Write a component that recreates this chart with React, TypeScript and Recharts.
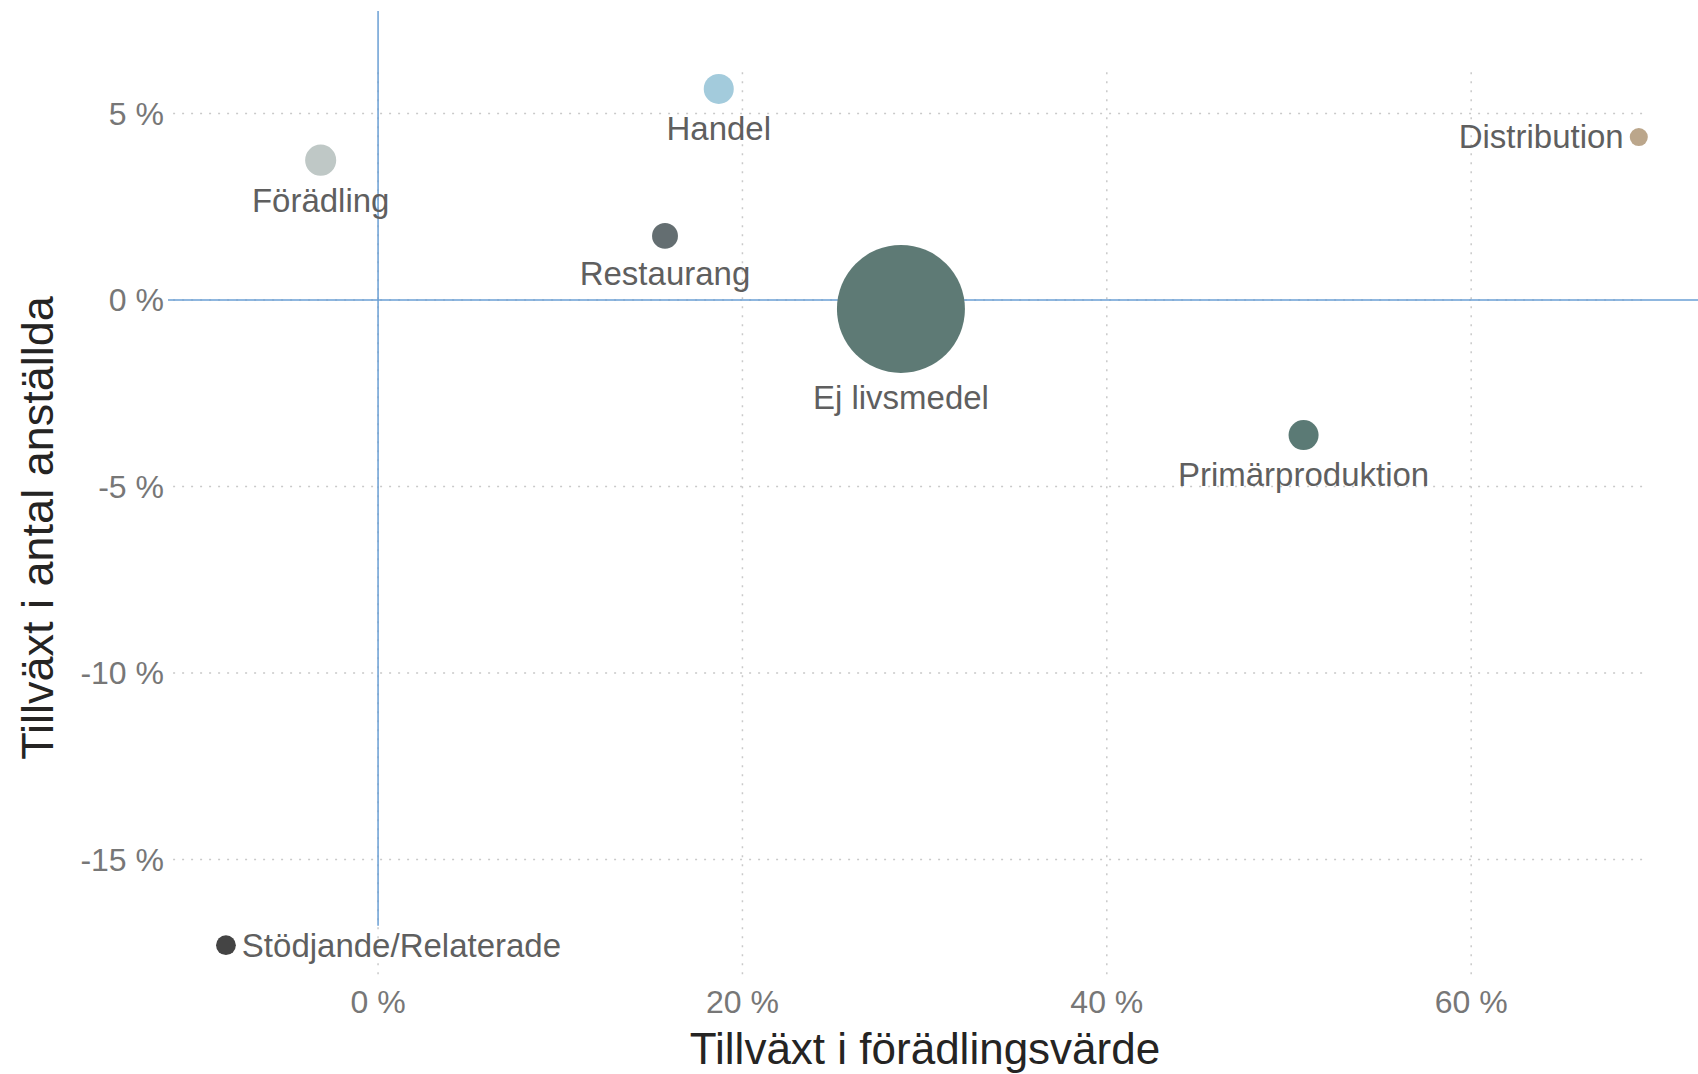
import {
  Cell,
  LabelList,
  ReferenceLine,
  Scatter,
  ScatterChart,
  XAxis,
  YAxis,
  ZAxis,
} from "recharts"

// data (percent)
const kategorier = [
  "Förädling",
  "Handel",
  "Restaurang",
  "Ej livsmedel",
  "Primärproduktion",
  "Distribution",
  "Stödjande/Relaterade",
]
const tillvaxtForadlingsvarde = [-3.15, 18.7, 15.75, 28.7, 50.8, 69.2, -8.35]
const tillvaxtAnstallda = [3.75, 5.66, 1.72, -0.24, -3.62, 4.37, -17.3]
const storlek = [5.9, 5.5, 4.1, 100, 5.5, 2.0, 2.4]

const xTicks = [0, 20, 40, 60]
const yTicks = [-15, -10, -5, 0, 5]

const colors: Record<string, string> = {
  "Förädling": "#bfc8c6",
  Handel: "#a3cbdc",
  Restaurang: "#646e71",
  "Ej livsmedel": "#5e7a75",
  "Primärproduktion": "#5b7a75",
  Distribution: "#bba68b",
  "Stödjande/Relaterade": "#444444",
}

const labelSide: Record<string, "below" | "left" | "right"> = {
  Distribution: "left",
  "Stödjande/Relaterade": "right",
}

const FONT = '"Liberation Sans", Arial, sans-serif'
const X_DOMAIN: [number, number] = [-11.53, 72.45]
const Y_DOMAIN: [number, number] = [-18.18, 7.75]
const GRID = "#c9c9c9"
const BLUE = "#6a9fd4"

const data = kategorier.map((namn, i) => ({
  namn,
  x: tillvaxtForadlingsvarde[i],
  y: tillvaxtAnstallda[i],
  z: storlek[i],
}))

function PointLabel(props: any) {
  const vb = props.viewBox ?? props
  const w = vb.width ?? 0
  const r = w / 2
  const cx = (vb.x ?? 0) + r
  const cy = (vb.y ?? 0) + (vb.height ?? w) / 2
  const name = String(props.value)
  const side = labelSide[name] ?? "below"
  const common = { fontSize: 33, fill: "#5f5f5f", fontFamily: FONT }
  if (side === "left") {
    return (
      <text x={cx - r - 6} y={cy + 11} textAnchor="end" {...common}>
        {name}
      </text>
    )
  }
  if (side === "right") {
    return (
      <text x={cx + r + 6} y={cy + 12} textAnchor="start" {...common}>
        {name}
      </text>
    )
  }
  return (
    <text x={cx} y={cy + r + 36} textAnchor="middle" {...common}>
      {name}
    </text>
  )
}

export default function App() {
  const tick = { fontSize: 32, fill: "#777777", fontFamily: FONT }
  return (
    <div style={{ position: "absolute", left: 0, top: 0, background: "#fff" }}>
      <ScatterChart width={1698} height={1074} margin={{ top: 11, right: 0, bottom: 0, left: 0 }}>
        <XAxis
          type="number"
          dataKey="x"
          domain={X_DOMAIN}
          allowDataOverflow
          ticks={xTicks}
          interval={0}
          axisLine={false}
          tickLine={false}
          tickSize={0}
          tickMargin={12}
          height={96}
          tick={tick}
          tickFormatter={(v) => `${v} %`}
          label={{
            content: () => (
              <text x={925} y={1064} textAnchor="middle" fontSize={44} fill="#252423" fontFamily={FONT}>
                Tillväxt i förädlingsvärde
              </text>
            ),
          }}
        />
        <YAxis
          type="number"
          dataKey="y"
          domain={Y_DOMAIN}
          allowDataOverflow
          ticks={yTicks}
          interval={0}
          axisLine={false}
          tickLine={false}
          tickSize={0}
          tickMargin={4}
          width={168}
          tick={tick}
          tickFormatter={(v) => `${v} %`}
          label={{
            content: () => (
              <text
                x={53}
                y={528}
                transform="rotate(-90, 53, 528)"
                textAnchor="middle"
                fontSize={45}
                fill="#252423"
                fontFamily={FONT}
              >
                Tillväxt i antal anställda
              </text>
            ),
          }}
        />
        <ZAxis type="number" dataKey="z" domain={[0, 100]} range={[0, 12868]} />

        {yTicks.map((v) => (
          <ReferenceLine
            key={`h${v}`}
            segment={[
              { x: -11.25, y: v },
              { x: 69.6, y: v },
            ]}
            stroke={GRID}
            strokeWidth={1.5}
            strokeDasharray="2 7"
            ifOverflow="visible"
          />
        ))}
        {xTicks.map((v) => (
          <ReferenceLine
            key={`v${v}`}
            segment={[
              { x: v, y: 6.11 },
              { x: v, y: -18.18 },
            ]}
            stroke={GRID}
            strokeWidth={1.5}
            strokeDasharray="2 7"
            ifOverflow="visible"
          />
        ))}

        <Scatter data={data} isAnimationActive={false}>
          {data.map((d) => (
            <Cell key={d.namn} fill={colors[d.namn]} />
          ))}
          <LabelList dataKey="namn" content={PointLabel} />
        </Scatter>

        <ReferenceLine y={0} stroke={BLUE} strokeWidth={1.5} ifOverflow="visible" />
        <ReferenceLine
          segment={[
            { x: 0, y: 7.75 },
            { x: 0, y: -16.78 },
          ]}
          stroke={BLUE}
          strokeWidth={1.5}
          ifOverflow="visible"
        />
      </ScatterChart>
    </div>
  )
}
